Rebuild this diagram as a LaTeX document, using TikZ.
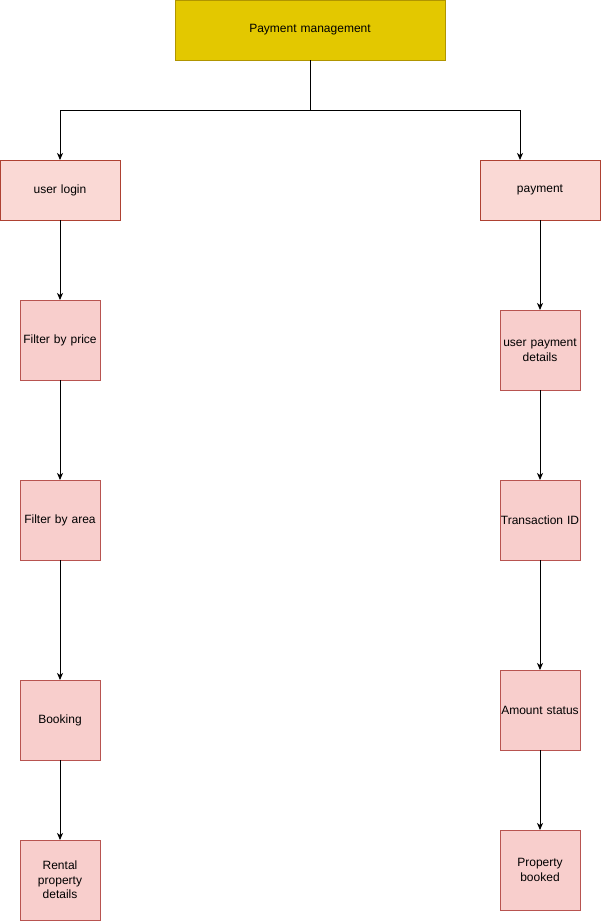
\documentclass[tikz,border=0pt]{standalone}
\usepackage{fontspec}
\setmainfont{Liberation Sans}
\usetikzlibrary{arrows.meta}
\definecolor{goldfill}{HTML}{E3C800}
\definecolor{goldline}{HTML}{B09500}
\definecolor{lightred}{HTML}{FAD9D5}
\definecolor{lightredline}{HTML}{AE4132}
\definecolor{pinkfill}{HTML}{F8CECC}
\definecolor{pinkline}{HTML}{B85450}
\tikzset{
  boxbase/.style={draw, line width=0.9pt, inner sep=0pt, outer sep=0pt, align=center,
    font=\fontsize{12}{14.5}\selectfont, text width=80pt},
  headbox/.style={boxbase, fill=goldfill, draw=goldline, minimum width=270pt, minimum height=60pt, text width=260pt},
  branchbox/.style={boxbase, fill=lightred, draw=lightredline, minimum width=120pt, minimum height=60pt, text width=112pt},
  stepbox/.style={boxbase, fill=pinkfill, draw=pinkline, minimum width=80pt, minimum height=80pt},
  link/.style={line width=0.9pt, -{Stealth[length=7pt,width=6pt,inset=2pt]}}
}
\begin{document}
\begin{tikzpicture}[x=1pt,y=-1pt]
\useasboundingbox (0,0) rectangle (601,921);
\node[headbox] (pm) at (310,30) {Payment management};
\node[branchbox] (ul) at (60,190) {user login};
\node[branchbox] (pay) at (540,190) {payment};
\node[stepbox] (fp) at (60,340) {Filter by price};
\node[stepbox] (fa) at (60,520) {Filter by area};
\node[stepbox] (bk) at (60,720) {Booking};
\node[stepbox] (rp) at (60,880) {Rental\\property\\details};
\node[stepbox] (upd) at (540,350) {user payment\\details};
\node[stepbox] (tid) at (540,520) {Transaction ID};
\node[stepbox] (ams) at (540,710) {Amount status};
\node[stepbox] (pb) at (540,870) {Property\\booked};
\coordinate (split) at (310,110);
\coordinate (payin) at ([xshift=-20pt]pay.north);
\draw[link] (pm.south) -- (split) -| (ul.north);
\draw[link] (pm.south) -- (split) -| (payin);
\draw[link] (ul.south) -- (fp.north);
\draw[link] (fp.south) -- (fa.north);
\draw[link] (fa.south) -- (bk.north);
\draw[link] (bk.south) -- (rp.north);
\draw[link] (pay.south) -- (upd.north);
\draw[link] (upd.south) -- (tid.north);
\draw[link] (tid.south) -- (ams.north);
\draw[link] (ams.south) -- (pb.north);
\end{tikzpicture}
\end{document}
